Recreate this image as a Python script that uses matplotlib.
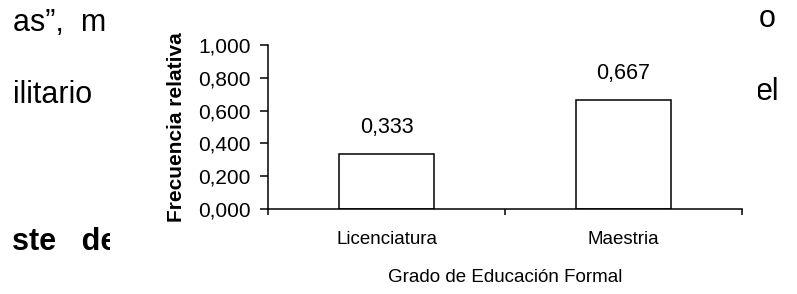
import matplotlib
matplotlib.use('Agg')
import matplotlib.pyplot as plt
from matplotlib.patches import Rectangle
from matplotlib.ticker import FixedLocator, NullFormatter

categorias = ['Licenciatura', 'Maestria']
frecuencias = [0.333, 0.667]
etiquetas = ['0,333', '0,667']
y_ticks = [0.0, 0.2, 0.4, 0.6, 0.8, 1.0]
y_etiquetas = ['0,000', '0,200', '0,400', '0,600', '0,800', '1,000']

plt.rcParams['font.family'] = ['Liberation Sans', 'DejaVu Sans']

W, H = 797, 294
fig = plt.figure(figsize=(W / 100, H / 100), dpi=100)


def px(x, y):
    # pixel -> coordenadas de figura
    return x / W, 1 - y / H


# texto del documento que queda detras del grafico
fondo = dict(fontsize=22, color='black', zorder=0.5)
fig.text(*px(13, 31), 'as\u201d,  m', ha='left', va='baseline', **fondo)
fig.text(*px(13, 103), 'ilitario', ha='left', va='baseline', **fondo)
fig.text(*px(12, 250), 'ste   de', ha='left', va='baseline', fontweight='bold', **fondo)
fig.text(*px(759, 27), 'o', ha='left', va='baseline', **fondo)
fig.text(*px(779, 100), 'el', ha='right', va='baseline', **fondo)

# recuadro blanco del grafico
fig.patches.append(Rectangle((110 / W, 0), (758 - 110) / W, 1, transform=fig.transFigure,
                             facecolor='white', edgecolor='none', zorder=1))

ax = fig.add_axes([268 / W, (H - 209) / H, (742 - 268) / W, (209 - 45) / H])
ax.set_zorder(2)

x = list(range(len(categorias)))
barras = ax.bar(x, frecuencias, width=0.4, color='white', edgecolor='black', linewidth=1.1)
for b, t in zip(barras, etiquetas):
    ax.annotate(t, (b.get_x() + b.get_width() / 2, b.get_height()), xytext=(0, 19),
                textcoords='offset points', ha='center', va='center', fontsize=15.5)

ax.set_xlim(-0.5, len(categorias) - 0.5)
ax.set_ylim(0, 1)
ax.set_yticks(y_ticks)
ax.set_yticklabels(y_etiquetas, fontsize=15)
ax.tick_params(axis='y', direction='out', length=5.5, width=1.1, pad=7)

ax.xaxis.set_major_locator(FixedLocator([-0.5, 0.5, 1.5]))
ax.xaxis.set_major_formatter(NullFormatter())
ax.set_xticks(x, minor=True)
ax.set_xticklabels(categorias, minor=True, fontsize=13.5)
ax.tick_params(axis='x', which='major', direction='out', length=4, width=1.1)
ax.tick_params(axis='x', which='minor', length=0, pad=16)

ax.spines['top'].set_visible(False)
ax.spines['right'].set_visible(False)
ax.spines['left'].set_linewidth(1.1)
ax.spines['bottom'].set_linewidth(1.1)

ax.set_ylabel('Frecuencia relativa', fontsize=15, fontweight='bold', labelpad=9)
ax.set_xlabel('Grado de Educaci\u00f3n Formal', fontsize=13.5, labelpad=15)

fig.savefig('out.png', dpi=100)
